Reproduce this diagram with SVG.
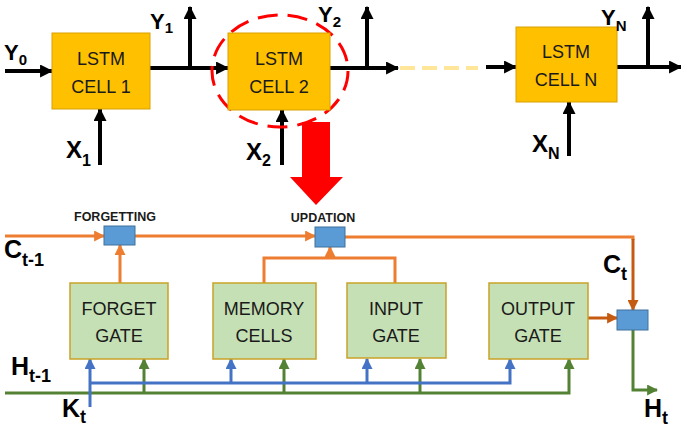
<svg xmlns="http://www.w3.org/2000/svg" width="681" height="430" viewBox="0 0 681 430">
<defs>
<style>
.lstm{fill:#FFC000;stroke:#D9A200;stroke-width:1}
.gate{fill:#C5E0B4;stroke:#C9A227;stroke-width:1.5}
.mix{fill:#5B9BD5;stroke:#41719C;stroke-width:1}
.t{font-family:"Liberation Sans",Arial,sans-serif;font-size:18px;fill:#1a1a1a;text-anchor:middle}
.lb{font-family:"Liberation Sans",Arial,sans-serif;font-weight:bold;fill:#000}
.sm{font-family:"Liberation Sans",Arial,sans-serif;font-weight:bold;font-size:12.5px;fill:#1a1a1a;text-anchor:middle}
.bk{fill:none;stroke:#000;stroke-width:4}
.or{fill:none;stroke:#ED7D31;stroke-width:3}
.od{fill:none;stroke:#C55A11;stroke-width:3}
.bl{fill:none;stroke:#4472C4;stroke-width:3}
.gr{fill:none;stroke:#548235;stroke-width:3}
</style>
<marker id="ab" viewBox="0 0 12 12" refX="11" refY="6" markerWidth="13" markerHeight="13" markerUnits="userSpaceOnUse" orient="auto"><path d="M0,0 L12,6 L0,12 z" fill="#000"/></marker>
<marker id="ao" viewBox="0 0 10 10" refX="9" refY="5" markerWidth="11" markerHeight="11" markerUnits="userSpaceOnUse" orient="auto"><path d="M0,0 L10,5 L0,10 z" fill="#ED7D31"/></marker>
<marker id="aod" viewBox="0 0 10 10" refX="9" refY="5" markerWidth="11" markerHeight="11" markerUnits="userSpaceOnUse" orient="auto"><path d="M0,0 L10,5 L0,10 z" fill="#C55A11"/></marker>
<marker id="abl" viewBox="0 0 10 10" refX="9" refY="5" markerWidth="11" markerHeight="11" markerUnits="userSpaceOnUse" orient="auto"><path d="M0,0 L10,5 L0,10 z" fill="#4472C4"/></marker>
<marker id="agr" viewBox="0 0 10 10" refX="9" refY="5" markerWidth="11" markerHeight="11" markerUnits="userSpaceOnUse" orient="auto"><path d="M0,0 L10,5 L0,10 z" fill="#548235"/></marker>
</defs>
<rect width="681" height="430" fill="#fff"/>

<g id="connectors">
<path class="bk" d="M5,71 H52" marker-end="url(#ab)"/>
<path class="bk" d="M150,68 H228" marker-end="url(#ab)"/>
<path class="bk" d="M190,68 V7" marker-end="url(#ab)"/>
<path class="bk" d="M100,165 V109" marker-end="url(#ab)"/>
<path class="bk" d="M282,165 V110" marker-end="url(#ab)"/>
<path class="bk" d="M330,68 H398" marker-end="url(#ab)"/>
<path class="bk" d="M367,68 V7" marker-end="url(#ab)"/>
<path fill="none" stroke="#FFE699" stroke-width="4" stroke-dasharray="15 7" d="M400,68 H478"/>
<path class="bk" d="M486,67 H516" marker-end="url(#ab)"/>
<path class="bk" d="M569,156 V102" marker-end="url(#ab)"/>
<path class="bk" d="M617,67 H681" marker-end="url(#ab)"/>
<path class="bk" d="M648,67 V7" marker-end="url(#ab)"/>
<ellipse cx="280" cy="71" rx="68" ry="56" fill="none" stroke="#FF0000" stroke-width="3" stroke-dasharray="20 10"/>
<path d="M302,122 H330 V177 H343 L316,205 L290,177 H302 Z" fill="#FF0000"/>

<path class="or" d="M5,236 H104" marker-end="url(#ao)"/>
<path class="or" d="M135,236 H315" marker-end="url(#ao)"/>
<path class="or" d="M345,237 H633 V240"/>
<path class="od" d="M633,239 V310" marker-end="url(#aod)"/>
<path class="or" d="M120,283 V245" marker-end="url(#ao)"/>
<path class="or" d="M264,283 V258 H395 V283"/>
<path class="or" d="M330,258 V247" marker-end="url(#ao)"/>
<path class="od" d="M588,318 H617" marker-end="url(#aod)"/>
<path class="gr" d="M5,393 H569 V359" marker-end="url(#agr)"/>
<path class="gr" d="M144,393 V359" marker-end="url(#agr)"/>
<path class="gr" d="M284,393 V359" marker-end="url(#agr)"/>
<path class="gr" d="M420,393 V359" marker-end="url(#agr)"/>
<path class="bl" d="M90,407 V359" marker-end="url(#abl)"/>
<path class="bl" d="M90,383 H510 V359" marker-end="url(#abl)"/>
<path class="bl" d="M231,383 V359" marker-end="url(#abl)"/>
<path class="bl" d="M367,383 V359" marker-end="url(#abl)"/>
<path class="gr" d="M633,330 V390 H657" marker-end="url(#agr)"/>
</g>

<g id="cell1"><rect class="lstm" x="52" y="33" width="98" height="76"/><text class="t" x="101" y="65">LSTM</text><text class="t" x="101" y="93">CELL 1</text></g>
<g id="cell2"><rect class="lstm" x="228" y="33" width="102" height="77"/><text class="t" x="279" y="65">LSTM</text><text class="t" x="279" y="93">CELL 2</text></g>
<g id="cellN"><rect class="lstm" x="516" y="27" width="101" height="75"/><text class="t" x="566" y="58">LSTM</text><text class="t" x="566" y="86">CELL N</text></g>

<g id="forgetting"><rect class="mix" x="104" y="226" width="31" height="19"/><text class="sm" x="115" y="221">FORGETTING</text></g>
<g id="updation"><rect class="mix" x="315" y="227" width="30" height="20"/><text class="sm" x="323" y="222">UPDATION</text></g>
<g id="outmix"><rect class="mix" x="617" y="310" width="31" height="20"/></g>

<g id="forget"><rect class="gate" x="70" y="283" width="98" height="76"/><text class="t" x="119" y="315">FORGET</text><text class="t" x="119" y="342">GATE</text></g>
<g id="memory"><rect class="gate" x="213" y="283" width="103" height="76"/><text class="t" x="264" y="315">MEMORY</text><text class="t" x="264" y="342">CELLS</text></g>
<g id="input"><rect class="gate" x="347" y="283" width="99" height="75"/><text class="t" x="396" y="315">INPUT</text><text class="t" x="396" y="342">GATE</text></g>
<g id="output"><rect class="gate" x="489" y="283" width="99" height="76"/><text class="t" x="538" y="315">OUTPUT</text><text class="t" x="538" y="342">GATE</text></g>

<g id="labels">
<text class="lb" x="4" y="60" font-size="22">Y<tspan font-size="15" dy="5">0</tspan></text>
<text class="lb" x="150" y="29" font-size="22">Y<tspan font-size="15" dy="4">1</tspan></text>
<text class="lb" x="318" y="22" font-size="22">Y<tspan font-size="15" dy="5">2</tspan></text>
<text class="lb" x="601" y="25" font-size="22">Y<tspan font-size="15" dy="6">N</tspan></text>
<text class="lb" x="66" y="158" font-size="24">X<tspan font-size="16" dy="8">1</tspan></text>
<text class="lb" x="246" y="160" font-size="24">X<tspan font-size="16" dy="6">2</tspan></text>
<text class="lb" x="532" y="152" font-size="24">X<tspan font-size="16" dy="7">N</tspan></text>
<text class="lb" x="4" y="258" font-size="25">C<tspan font-size="18" dy="8">t-1</tspan></text>
<text class="lb" x="603" y="273" font-size="25">C<tspan font-size="18" dy="7">t</tspan></text>
<text class="lb" x="11" y="375" font-size="25">H<tspan font-size="18" dy="7">t-1</tspan></text>
<text class="lb" x="62" y="417" font-size="25">K<tspan font-size="18" dy="6">t</tspan></text>
<text class="lb" x="644" y="417" font-size="25">H<tspan font-size="18" dy="7">t</tspan></text>
</g>
</svg>
